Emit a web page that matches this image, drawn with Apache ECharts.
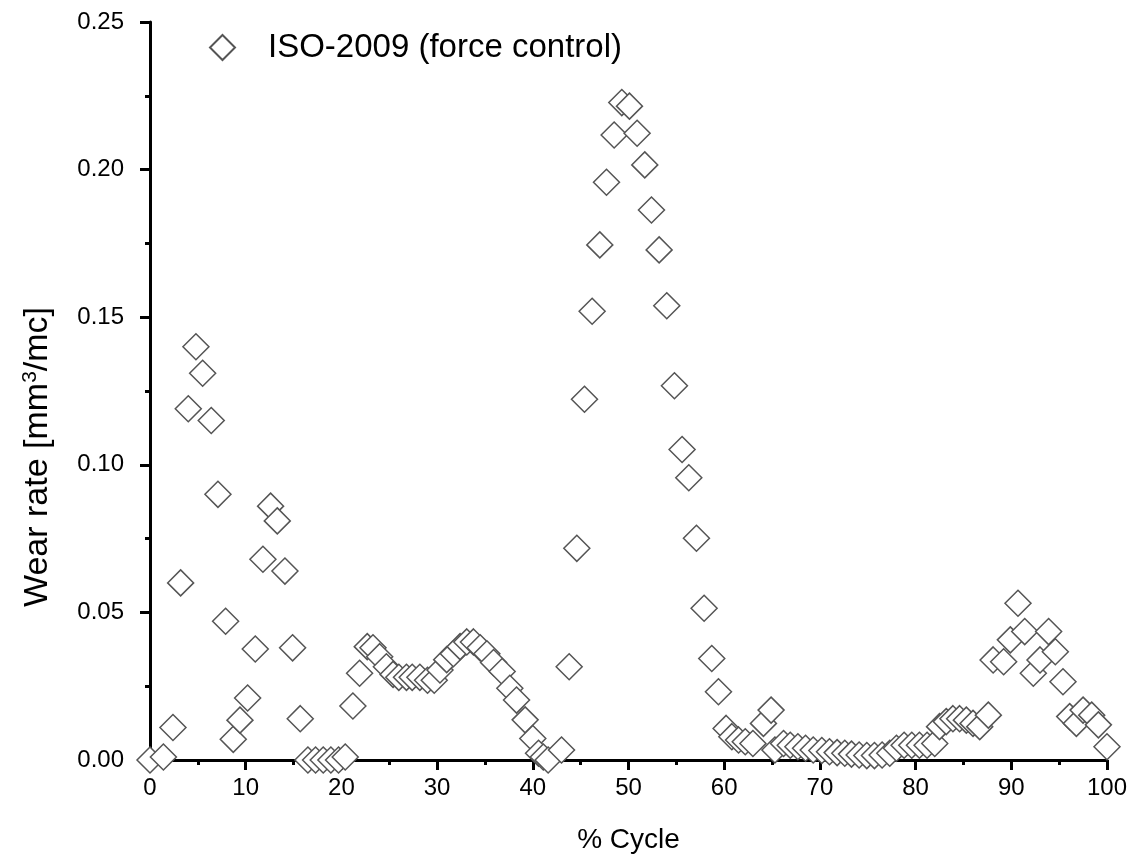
<!DOCTYPE html>
<html>
<head>
<meta charset="utf-8">
<script src="https://cdn.jsdelivr.net/npm/echarts@6/dist/echarts.min.js"></script>
<style>
  html, body { margin: 0; padding: 0; background: #fff; }
  #chart { width: 1134px; height: 861px; }
</style>
</head>
<body>
<div id="chart"></div>
<script>
// % cycle positions
const cycle = [
  0, 1.4, 2.4, 3.2, 4.0, 4.8, 5.5, 6.4, 7.1, 7.9,
  8.7, 9.4, 10.2, 11.0, 11.8, 12.6, 13.3, 14.1, 14.9, 15.7,
  16.5, 17.3, 18.1, 18.9, 19.7, 20.4, 21.2, 21.9, 22.7, 23.3,
  24.0, 24.7, 25.4, 26.0, 26.8, 27.4, 28.2, 29.0, 29.7, 30.3,
  31.0, 31.7, 32.4, 33.1, 33.8, 34.5, 35.2, 35.9, 36.8, 37.6,
  38.3, 39.2, 40.0, 40.6, 41.1, 41.6, 43.0, 43.8, 44.6, 45.4,
  46.2, 47.0, 47.7, 48.5, 49.3, 50.1, 50.9, 51.7, 52.4, 53.2,
  54.0, 54.8, 55.6, 56.3, 57.1, 57.9, 58.7, 59.4, 60.2, 60.8,
  61.5, 62.2, 63.0, 64.1, 64.9, 65.3, 66.2, 66.9, 67.7, 68.5,
  69.3, 70.2, 71.0, 71.8, 72.6, 73.3, 74.1, 74.9, 75.7, 76.5,
  77.3, 78.0, 78.8, 79.6, 80.4, 81.2, 82.0, 82.5, 83.2, 83.9,
  84.6, 85.3, 86.0, 86.7, 87.6, 88.1, 89.2, 89.9, 90.7, 91.4,
  92.3, 93.0, 93.9, 94.6, 95.4, 96.1, 96.8, 97.5, 98.4, 99.1,
  100.0
]
// wear rate [mm3/mc]
const wearRate = [
  0.000, 0.001, 0.011, 0.060, 0.119, 0.140, 0.131, 0.115, 0.090, 0.047,
  0.007, 0.0135, 0.021, 0.0376, 0.068, 0.086, 0.081, 0.064, 0.038, 0.014,
  0.000, 0.000, 0.000, 0.000, 0.000, 0.001, 0.0183, 0.0294, 0.0384, 0.038,
  0.035, 0.0316, 0.029, 0.028, 0.028, 0.028, 0.028, 0.027, 0.027, 0.0305,
  0.034, 0.036, 0.0384, 0.040, 0.040, 0.038, 0.036, 0.033, 0.030, 0.0243,
  0.0203, 0.0136, 0.0073, 0.0023, 0.001, 0.000, 0.0034, 0.0316, 0.0717, 0.1222,
  0.152, 0.1745, 0.1957, 0.2117, 0.2227, 0.2215, 0.2123, 0.2016, 0.1863, 0.1728,
  0.1539, 0.1268, 0.1052, 0.0956, 0.0751, 0.0514, 0.0344, 0.0231, 0.0107, 0.0079,
  0.0068, 0.0062, 0.0056, 0.0124, 0.0169, 0.0034, 0.0056, 0.005, 0.0045, 0.004,
  0.0034, 0.0032, 0.0028, 0.0025, 0.0023, 0.002, 0.0017, 0.0015, 0.0015, 0.0017,
  0.0023, 0.004, 0.005, 0.005, 0.005, 0.005, 0.0056, 0.0113, 0.013, 0.014,
  0.014, 0.0135, 0.0124, 0.0113, 0.0152, 0.0339, 0.0333, 0.0407, 0.0531, 0.0435,
  0.0294, 0.0339, 0.0435, 0.0367, 0.0265, 0.0147, 0.0124, 0.0169, 0.0152, 0.0119,
  0.0045
]
const seriesName = 'ISO-2009 (force control)'

const points = cycle.map((x, i) => [x, wearRate[i]])

const chart = echarts.init(document.getElementById('chart'))
const font = 'Arial, "Liberation Sans", sans-serif'
chart.setOption({
  animation: false,
  backgroundColor: '#fff',
  grid: { left: 150, right: 27, top: 22, bottom: 101 },
  legend: {
    left: 204,
    top: 26,
    itemWidth: 25,
    itemHeight: 25,
    data: [seriesName],
    textStyle: { fontFamily: font, fontSize: 33, color: '#000', padding: [0, 0, 0, 28] }
  },
  xAxis: {
    type: 'value',
    min: 0,
    max: 100,
    interval: 10,
    name: '% Cycle',
    nameLocation: 'middle',
    nameGap: 66,
    nameTextStyle: { fontFamily: font, fontSize: 28, color: '#000' },
    axisLine: { show: true, onZero: false, lineStyle: { color: '#000', width: 3 } },
    axisTick: { show: true, length: 10, lineStyle: { color: '#000', width: 3 } },
    minorTick: { show: true, splitNumber: 2, length: 5, lineStyle: { color: '#000', width: 3 } },
    axisLabel: { fontFamily: font, fontSize: 24, color: '#000', margin: 16 },
    splitLine: { show: false }
  },
  yAxis: {
    type: 'value',
    min: 0,
    max: 0.25,
    interval: 0.05,
    name: '{a|Wear rate [mm}{sup|3}{a|/mc]}',
    nameLocation: 'middle',
    nameGap: 94,
    nameTextStyle: {
      fontFamily: font,
      color: '#000',
      padding: [0, 132, 0, 0],
      rich: {
        a: { fontFamily: font, fontSize: 34, color: '#000' },
        sup: { fontFamily: font, fontSize: 21, color: '#000', padding: [0, 0, 15, 0] }
      }
    },
    axisLine: { show: true, onZero: false, lineStyle: { color: '#000', width: 3 } },
    axisTick: { show: true, length: 10, lineStyle: { color: '#000', width: 3 } },
    minorTick: { show: true, splitNumber: 2, length: 5, lineStyle: { color: '#000', width: 3 } },
    axisLabel: {
      fontFamily: font, fontSize: 24, color: '#000', margin: 26,
      formatter: v => v.toFixed(2)
    },
    splitLine: { show: false }
  },
  series: [{
    name: seriesName,
    type: 'scatter',
    symbol: 'diamond',
    symbolSize: [26, 26],
    data: points,
    itemStyle: { color: '#fff', borderColor: '#555', borderWidth: 1.5, opacity: 1 }
  }]
})
</script>
</body>
</html>
